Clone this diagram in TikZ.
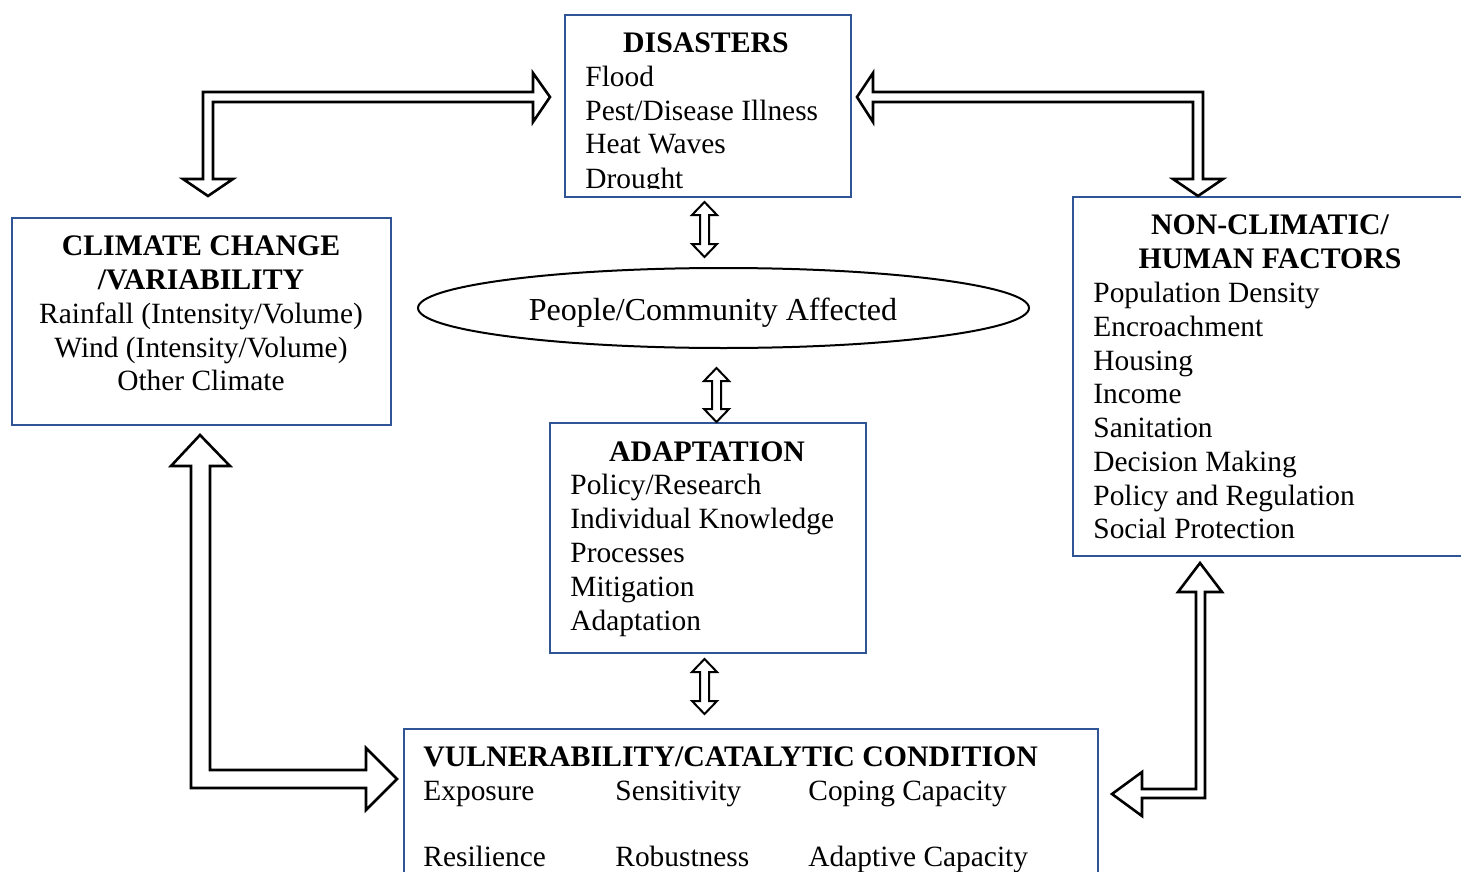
\documentclass[tikz,border=0pt]{standalone}
\usepackage{fontspec}
\setmainfont{Liberation Serif}
\usetikzlibrary{shapes.geometric}
\definecolor{boxblue}{RGB}{47,85,151}
\tikzset{
  box/.style={draw=boxblue, line width=1pt, fill=white, anchor=north west, inner sep=0pt},
  blockarrow/.style={draw=black, fill=white, line width=1.3pt, line join=miter},
  smallarrow/.style={draw=black, fill=white, line width=1pt, line join=miter},
  txt/.style={inner sep=0pt, font=\fontsize{14.7}{16.85}\selectfont},
  ttl/.style={inner sep=0pt, font=\fontsize{14.9}{16.85}\selectfont\bfseries},
  big/.style={inner sep=0pt, font=\fontsize{16}{18}\selectfont},
}
\begin{document}
\begin{tikzpicture}[x=0.5pt,y=-0.5pt]
\useasboundingbox (0,0) rectangle (1461,872);
% boxes
\node[box, minimum width=143pt, minimum height=91pt] (dis) at (564,14) {};
\node[box, minimum width=189.5pt, minimum height=103.5pt] (cli) at (11,217) {};
\node[box, minimum width=200pt, minimum height=179.5pt] (non) at (1072,196) {};
\node[box, minimum width=158pt, minimum height=115pt] (ada) at (549,422) {};
\node[box, minimum width=347pt, minimum height=80pt] (vul) at (403,728) {};
\node[draw=black, line width=1pt, ellipse, minimum width=305.5pt, minimum height=40pt, inner sep=0pt] (peo) at (723.5,308) {};

% Disasters text (clipped)
\begin{scope}
\clip (564,14) rectangle (850,188);
\node[ttl, anchor=base] (t1) at (706,53) {DISASTERS};
\node[txt, anchor=base west] (d1) at (585,87) {Flood};
\node[txt, anchor=base west] (d2) at (585,120) {Pest/Disease Illness};
\node[txt, anchor=base west] (d3) at (585,154) {Heat Waves};
\node[txt, anchor=base west] (d4) at (585,188) {Drought};
\end{scope}

% Climate
\node[ttl, anchor=base] (c0) at (201,255) {CLIMATE CHANGE};
\node[ttl, anchor=base] (c1) at (201,289) {/VARIABILITY};
\node[txt, anchor=base] (c2) at (201,323) {Rainfall (Intensity/Volume)};
\node[txt, anchor=base] (c3) at (201,357) {Wind (Intensity/Volume)};
\node[txt, anchor=base] (c4) at (201,390) {Other Climate};

% Non-climatic
\node[ttl, anchor=base] (n0) at (1270,234) {NON-CLIMATIC/};
\node[ttl, anchor=base] (n1) at (1270,268) {HUMAN FACTORS};
\node[txt, anchor=base west] (n2) at (1093,302) {Population Density};
\node[txt, anchor=base west] (n3) at (1093,336) {Encroachment};
\node[txt, anchor=base west] (n4) at (1093,370) {Housing};
\node[txt, anchor=base west] (n5) at (1093,403) {Income};
\node[txt, anchor=base west] (n6) at (1093,437) {Sanitation};
\node[txt, anchor=base west] (n7) at (1093,471) {Decision Making};
\node[txt, anchor=base west] (n8) at (1093,505) {Policy and Regulation};
\node[txt, anchor=base west] (n9) at (1093,538) {Social Protection};

% People
\node[big, anchor=base] (p0) at (713,320) {People/Community Affected};

% Adaptation
\node[ttl, anchor=base] (a0) at (707,461) {ADAPTATION};
\node[txt, anchor=base west] (a1) at (570,494) {Policy/Research};
\node[txt, anchor=base west] (a2) at (570,528) {Individual Knowledge};
\node[txt, anchor=base west] (a3) at (570,562) {Processes};
\node[txt, anchor=base west] (a4) at (570,596) {Mitigation};
\node[txt, anchor=base west] (a5) at (570,630) {Adaptation};

% Vulnerability
\node[ttl, anchor=base west] (v0) at (423,766) {VULNERABILITY/CATALYTIC CONDITION};
\node[txt, anchor=base west] (v1) at (423,800) {Exposure};
\node[txt, anchor=base west] (v2) at (615,800) {Sensitivity};
\node[txt, anchor=base west] (v3) at (808,800) {Coping Capacity};
\node[txt, anchor=base west] (v4) at (423,866) {Resilience};
\node[txt, anchor=base west] (v5) at (615,866) {Robustness};
\node[txt, anchor=base west] (v6) at (808,866) {Adaptive Capacity};

% bent block arrows
\draw[blockarrow] (550,97) -- (533,122) -- (533,102) -- (213,102) -- (213,179) -- (233,179) -- (208,196) -- (183,179) -- (203,179) -- (203,92) -- (533,92) -- (533,73) -- cycle;
\draw[blockarrow] (857,97) -- (873,73) -- (873,92) -- (1203,92) -- (1203,179) -- (1223,179) -- (1198,196) -- (1173,179) -- (1193,179) -- (1193,102) -- (873,102) -- (873,122) -- cycle;
\draw[blockarrow] (200,435) -- (230,466) -- (210,466) -- (210,770) -- (366,770) -- (366,748) -- (397,779) -- (366,810) -- (366,788) -- (191,788) -- (191,466) -- (171,466) -- cycle;
\draw[blockarrow] (1200,563) -- (1222,592) -- (1205,592) -- (1205,798) -- (1142,798) -- (1142,816) -- (1112,794) -- (1142,772) -- (1142,789) -- (1196,789) -- (1196,592) -- (1178,592) -- cycle;

% small double arrows
\draw[smallarrow] (704.5,202) -- (717,215) -- (709,215) -- (709,244) -- (717,244) -- (704.5,257) -- (692,244) -- (700,244) -- (700,215) -- (692,215) -- cycle;
\draw[smallarrow] (716.5,368) -- (729,381) -- (721,381) -- (721,409) -- (729,409) -- (716.5,422) -- (704,409) -- (712,409) -- (712,381) -- (704,381) -- cycle;
\draw[smallarrow] (704.5,659) -- (717,672) -- (709,672) -- (709,701) -- (717,701) -- (704.5,714) -- (692,701) -- (700,701) -- (700,672) -- (692,672) -- cycle;
\end{tikzpicture}
\end{document}
